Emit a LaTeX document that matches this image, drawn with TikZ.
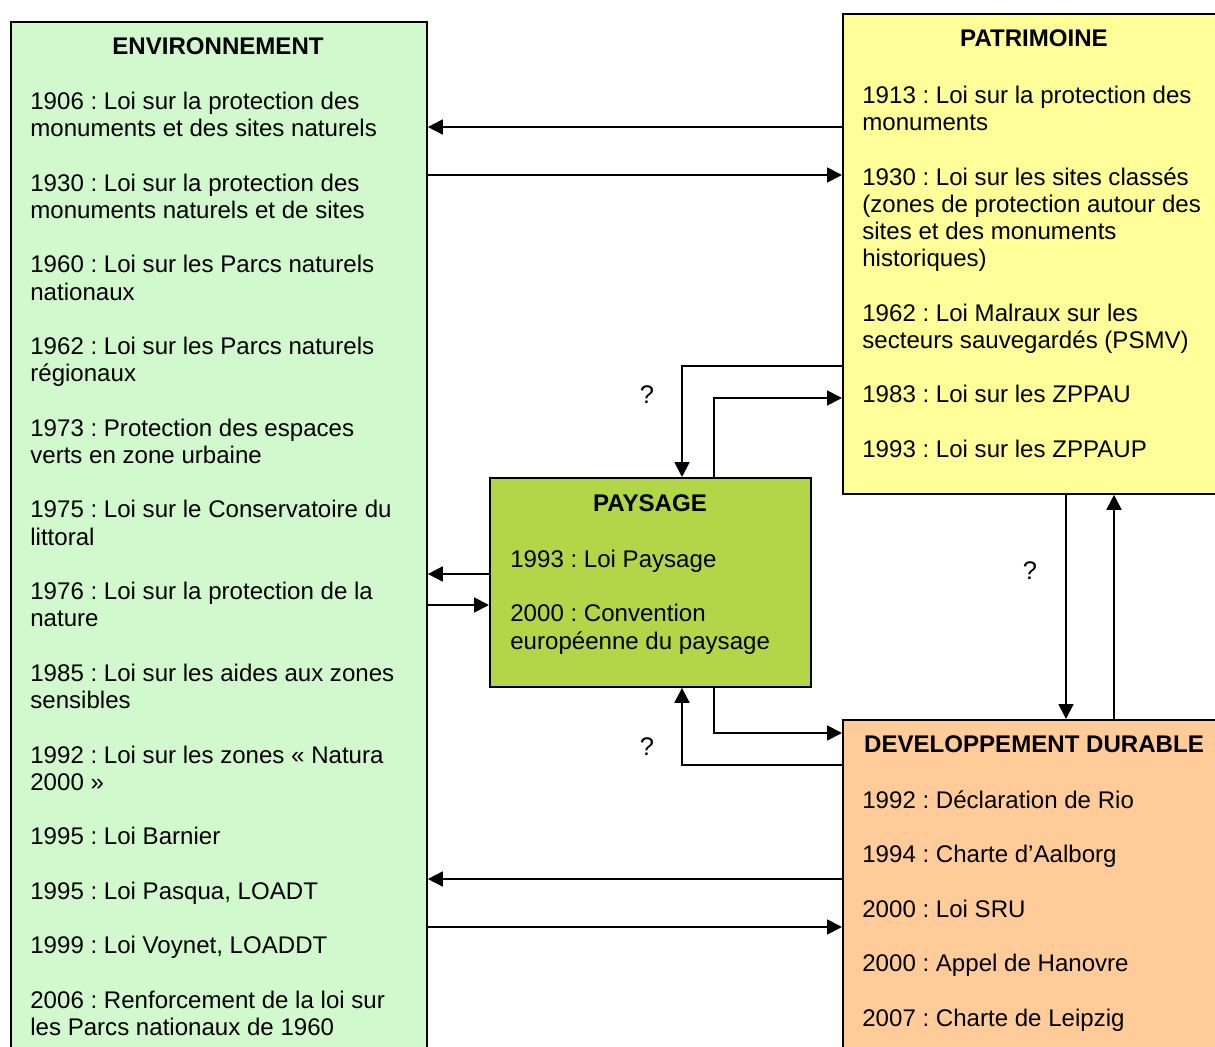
\documentclass[tikz,border=0pt]{standalone}
\usepackage{fontspec}
\setmainfont{Liberation Sans}
\usetikzlibrary{arrows.meta}
\frenchspacing

\definecolor{envgreen}{RGB}{210,249,205}
\definecolor{patyellow}{RGB}{255,255,153}
\definecolor{paygreen}{RGB}{178,214,72}
\definecolor{devorange}{RGB}{255,204,153}

\begin{document}
\begin{tikzpicture}[x=0.02cm, y=-0.02cm,
    box/.style={draw, line width=1.1pt, anchor=north west, inner sep=0pt},
    title/.style={font=\fontsize{13.7}{15.5}\selectfont\bfseries, anchor=base, inner sep=0pt},
    items/.style={font=\fontsize{13.7}{15.5}\selectfont, align=left, anchor=north west, inner sep=0pt},
    link/.style={line width=1.1pt, -{Triangle[length=8.5pt, width=8.5pt]}}]
    \useasboundingbox (0, 0) rectangle (1215, 1047);
    \clip (0, 0) rectangle (1215, 1047);
    % Boxes
    \node[box, fill=envgreen, minimum width=8.32cm, minimum height=21cm] (env) at (10, 21) {};
    \node[box, fill=patyellow, minimum width=7.68cm, minimum height=9.6cm] (pat) at (842, 13) {};
    \node[box, fill=paygreen, minimum width=6.42cm, minimum height=4.18cm] (pay) at (489, 477) {};
    \node[box, fill=devorange, minimum width=7.68cm, minimum height=7cm] (dev) at (842, 719) {};
    % Straight links to and from ENVIRONNEMENT
    \foreach \from/\to/\y in {pat.west/env.east/127, env.east/pat.west/175,
                              pay.west/env.east/574, env.east/pay.west/605,
                              dev.west/env.east/879, env.east/dev.west/927}{
      \draw[link] (\from |- 0, \y) -- (\to |- 0, \y);
    }
    % Links around PAYSAGE
    \draw[link] (pat.west |- 0, 366) -| (pay.north -| 682, 0);
    \draw[link] (pay.north -| 714, 0) |- (pat.west |- 0, 398);
    \draw[link] (pay.south -| 714, 0) |- (dev.west |- 0, 733);
    \draw[link] (dev.west |- 0, 765) -| (pay.south -| 682, 0);
    % Links between PATRIMOINE and DEVELOPPEMENT DURABLE
    \draw[link] (pat.south -| 1066, 0) -- (dev.north -| 1066, 0);
    \draw[link] (dev.north -| 1114, 0) -- (pat.south -| 1114, 0);
    % Question marks
    \node[title, font=\fontsize{14.5}{15.5}\selectfont] (q1) at (647, 404) {?};
    \node[title, font=\fontsize{14.5}{15.5}\selectfont] (q2) at (1030, 580) {?};
    \node[title, font=\fontsize{14.5}{15.5}\selectfont] (q3) at (647, 756) {?};
    % Titles
    \node[title] (envtitle) at (218, 55) {ENVIRONNEMENT};
    \node[title] (pattitle) at (1034, 47) {PATRIMOINE};
    \node[title] (paytitle) at (650, 512) {PAYSAGE};
    \node[title] (devtitle) at (1034, 753) {DEVELOPPEMENT DURABLE};
    % Lists of laws (the strut fixes the top of the first line)
    \node[items] (envlist) at (30, 90) {%
      \strut1906 : Loi sur la protection des\\ monuments et des sites naturels\\[\baselineskip]
      1930 : Loi sur la protection des\\ monuments naturels et de sites\\[\baselineskip]
      1960 : Loi sur les Parcs naturels\\ nationaux\\[\baselineskip]
      1962 : Loi sur les Parcs naturels\\ régionaux\\[\baselineskip]
      1973 : Protection des espaces\\ verts en zone urbaine\\[\baselineskip]
      1975 : Loi sur le Conservatoire du\\ littoral\\[\baselineskip]
      1976 : Loi sur la protection de la\\ nature\\[\baselineskip]
      1985 : Loi sur les aides aux zones\\ sensibles\\[\baselineskip]
      1992 : Loi sur les zones « Natura\\ 2000 »\\[\baselineskip]
      1995 : Loi Barnier\\[\baselineskip]
      1995 : Loi Pasqua, LOADT\\[\baselineskip]
      1999 : Loi Voynet, LOADDT\\[\baselineskip]
      2006 : Renforcement de la loi sur\\ les Parcs nationaux de 1960};
    \node[items] (patlist) at (862, 84) {%
      \strut1913 : Loi sur la protection des\\ monuments\\[\baselineskip]
      1930 : Loi sur les sites classés\\ (zones de protection autour des\\
      sites et des monuments\\ historiques)\\[\baselineskip]
      1962 : Loi Malraux sur les\\ secteurs sauvegardés (PSMV)\\[\baselineskip]
      1983 : Loi sur les ZPPAU\\[\baselineskip]
      1993 : Loi sur les ZPPAUP};
    \node[items] (paylist) at (510, 548) {%
      \strut1993 : Loi Paysage\\[\baselineskip]
      2000 : Convention\\ européenne du paysage};
    \node[items] (devlist) at (862, 789) {%
      \strut1992 : Déclaration de Rio\\[\baselineskip]
      1994 : Charte d’Aalborg\\[\baselineskip]
      2000 : Loi SRU\\[\baselineskip]
      2000 : Appel de Hanovre\\[\baselineskip]
      2007 : Charte de Leipzig};
\end{tikzpicture}
\end{document}
